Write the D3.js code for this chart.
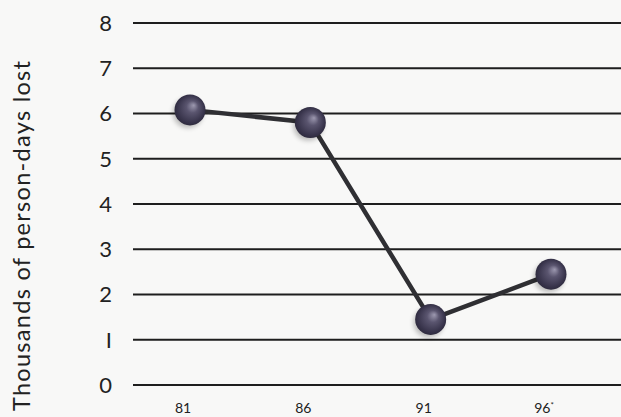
<!DOCTYPE html>
<html>
<head>
<meta charset="utf-8">
<script src="https://cdn.jsdelivr.net/npm/d3@7"></script>
<style>
  html, body { margin: 0; padding: 0; background: #f8f8f7; }
  svg { display: block; }
  text { font-family: Lato, "Open Sans", sans-serif; fill: #222; }
</style>
</head>
<body>
<svg id="chart" width="621" height="417"></svg>
<script>
// Working days lost per census year (thousands of person-days)
const years = ["81", "86", "91", "96*"];
const daysLost = [6.08, 5.8, 1.45, 2.45];
const yTicks = [0, 1, 2, 3, 4, 5, 6, 7, 8];
const yTickLabels = ["0", "I", "2", "3", "4", "5", "6", "7", "8"];
const yTitle = "Thousands of person-days lost";

const svg = d3.select("#chart");
const W = 621, H = 417;

const x = d3.scalePoint().domain(years).range([190, 551]);
const y = d3.scaleLinear().domain([0, 8]).range([385, 23]);

// Sphere shading for the markers
const defs = svg.append("defs");
const grad = defs.append("radialGradient")
  .attr("id", "ball")
  .attr("cx", "0.5").attr("cy", "0.5").attr("r", "0.55")
  .attr("fx", "0.62").attr("fy", "0.35");
grad.append("stop").attr("offset", "0").attr("stop-color", "#9d99b0");
grad.append("stop").attr("offset", "0.35").attr("stop-color", "#5a556f");
grad.append("stop").attr("offset", "0.8").attr("stop-color", "#37334a");
grad.append("stop").attr("offset", "1").attr("stop-color", "#2a2738");

const blur = defs.append("filter").attr("id", "shadow")
  .attr("x", "-50%").attr("y", "-50%").attr("width", "200%").attr("height", "200%");
blur.append("feGaussianBlur").attr("stdDeviation", 2.5);

// Horizontal rules at each tick
svg.append("g")
  .selectAll("line")
  .data(yTicks)
  .join("line")
  .attr("x1", 133).attr("x2", W)
  .attr("y1", d => y(d)).attr("y2", d => y(d))
  .attr("stroke", "#1e1e1e")
  .attr("stroke-width", 2);

// Y tick labels
svg.append("g")
  .selectAll("text")
  .data(yTicks)
  .join("text")
  .attr("x", 112)
  .attr("y", d => y(d))
  .attr("dy", "0.36em")
  .attr("text-anchor", "end")
  .attr("font-size", 22)
  .text((d, i) => yTickLabels[i]);

// X tick labels
svg.append("g")
  .selectAll("text")
  .data(years)
  .join("text")
  .attr("x", d => x(d) - 7)
  .attr("y", 408)
  .attr("dy", "0.35em")
  .attr("text-anchor", "middle")
  .attr("font-size", 14)
  .text(d => d.replace("*", ""))
  .append("tspan")
  .attr("font-size", 8)
  .attr("dy", "-0.6em")
  .text(d => d.includes("*") ? "*" : "");

// Y axis title
svg.append("text")
  .attr("transform", `translate(30, 236) rotate(-90)`)
  .attr("text-anchor", "middle")
  .attr("font-size", 23.5)
  .attr("textLength", 350)
  .attr("lengthAdjust", "spacing")
  .text(yTitle);

const pts = years.map((d, i) => [x(d), y(daysLost[i])]);

// Connecting line
svg.append("path")
  .datum(pts)
  .attr("d", d3.line())
  .attr("fill", "none")
  .attr("stroke", "#2f2f33")
  .attr("stroke-width", 4.5)
  .attr("stroke-linejoin", "round");

// Marker shadows
svg.append("g")
  .selectAll("circle")
  .data(pts)
  .join("circle")
  .attr("cx", d => d[0] - 2)
  .attr("cy", d => d[1] + 3)
  .attr("r", 15)
  .attr("fill", "#000")
  .attr("opacity", 0.25)
  .attr("filter", "url(#shadow)");

// Markers
svg.append("g")
  .selectAll("circle")
  .data(pts)
  .join("circle")
  .attr("cx", d => d[0])
  .attr("cy", d => d[1])
  .attr("r", 15.5)
  .attr("fill", "url(#ball)");
</script>
</body>
</html>
